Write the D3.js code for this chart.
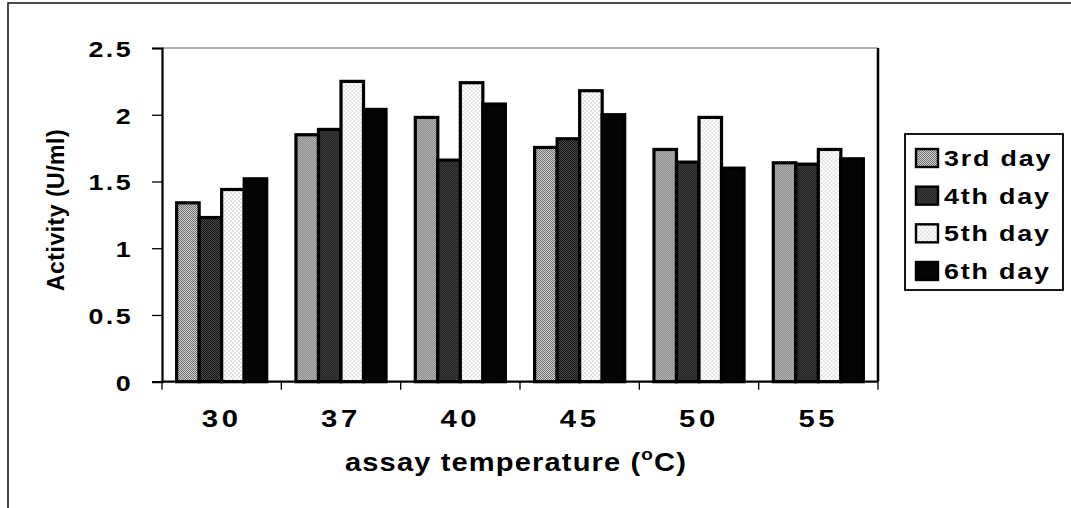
<!DOCTYPE html>
<html>
<head>
<meta charset="utf-8">
<script src="https://cdn.jsdelivr.net/npm/d3@7"></script>
<style>
  html, body { margin: 0; padding: 0; background: #fff; }
  svg { display: block; }
  text { font-family: "Liberation Sans", Arial, sans-serif; fill: #000; }
</style>
</head>
<body>
<svg id="chart" width="1071" height="508"></svg>
<script>
// Enzyme activity by assay temperature, one bar per harvest day
const temperatures = ["30", "37", "40", "45", "50", "55"];
const seriesNames = ["3rd day", "4th day", "5th day", "6th day"];
const day3 = [1.34, 1.85, 1.98, 1.755, 1.74, 1.64];
const day4 = [1.23, 1.89, 1.66, 1.82, 1.645, 1.63];
const day5 = [1.44, 2.25, 2.24, 2.18, 1.98, 1.74];
const day6 = [1.52, 2.04, 2.08, 2.00, 1.60, 1.67];
const yTicks = [0, 0.5, 1, 1.5, 2, 2.5];

const seriesValues = [day3, day4, day5, day6];

const svg = d3.select("#chart");
const W = 1071, H = 508;
const plot = { left: 162, right: 878, top: 48, bottom: 381.7 };
const stretch = 1.22; // wide lettering of the horizontal labels

// outer chart frame
svg.append("rect")
  .attr("x", 8).attr("y", 3)
  .attr("width", W + 20).attr("height", H + 20)
  .attr("fill", "none").attr("stroke", "#111").attr("stroke-width", 1.5);

// halftone-like fills
const defs = svg.append("defs");
function checker(id, a, b, size) {
  const p = defs.append("pattern").attr("id", id)
    .attr("patternUnits", "userSpaceOnUse")
    .attr("width", size * 2).attr("height", size * 2);
  p.append("rect").attr("width", size * 2).attr("height", size * 2).attr("fill", a);
  p.append("rect").attr("width", size).attr("height", size).attr("fill", b);
  p.append("rect").attr("x", size).attr("y", size).attr("width", size).attr("height", size).attr("fill", b);
}
checker("fill3", "#d2d2d2", "#6c6c6c", 1);
checker("fill4", "#4c4c4c", "#121212", 1);
checker("fill5", "#ffffff", "#e2e2e2", 2);
checker("fill6", "#000000", "#080808", 1);
const fills = ["url(#fill3)", "url(#fill4)", "url(#fill5)", "url(#fill6)"];

const x0 = d3.scaleBand().domain(temperatures).range([plot.left, plot.right]).padding(0);
const x1 = d3.scaleBand().domain(seriesNames).range([0, x0.bandwidth()])
  .paddingInner(0).paddingOuter(0.65);
const y = d3.scaleLinear().domain([0, 2.5]).range([plot.bottom, plot.top]);

// plot area border (top thin, right heavy)
svg.append("line")
  .attr("x1", plot.left).attr("x2", plot.right)
  .attr("y1", plot.top).attr("y2", plot.top)
  .attr("stroke", "#666").attr("stroke-width", 1.2);
svg.append("line")
  .attr("x1", plot.right).attr("x2", plot.right)
  .attr("y1", plot.top).attr("y2", plot.bottom)
  .attr("stroke", "#000").attr("stroke-width", 2.5);

// bars
const groups = svg.append("g").selectAll("g")
  .data(temperatures)
  .join("g")
  .attr("transform", d => `translate(${x0(d)},0)`);

groups.selectAll("rect")
  .data((t, i) => seriesNames.map((s, k) => ({ s, k, v: seriesValues[k][i] })))
  .join("rect")
  .attr("x", d => x1(d.s))
  .attr("y", d => y(d.v))
  .attr("width", x1.bandwidth())
  .attr("height", d => y(0) - y(d.v))
  .attr("fill", d => fills[d.k])
  .attr("stroke", "#000")
  .attr("stroke-width", 3.2);

// y axis
const yAxis = svg.append("g")
  .attr("transform", `translate(${plot.left},0)`)
  .call(d3.axisLeft(y).tickValues(yTicks).tickFormat(d3.format("")).tickSize(10).tickPadding(0));
yAxis.select(".domain").attr("stroke", "#000").attr("stroke-width", 2.2);
yAxis.selectAll(".tick line").attr("stroke", "#000").attr("stroke-width", 1.3);
yAxis.selectAll(".tick text")
  .attr("x", -29 / stretch)
  .attr("dy", "0.38em")
  .attr("transform", `scale(${stretch},1)`)
  .style("font-size", "22px")
  .style("font-weight", "bold")
  .style("letter-spacing", "2px");

// x axis baseline and category boundary ticks
svg.append("line")
  .attr("x1", plot.left).attr("x2", plot.right)
  .attr("y1", plot.bottom).attr("y2", plot.bottom)
  .attr("stroke", "#000").attr("stroke-width", 2.2);
const boundaries = temperatures.map(t => x0(t)).concat([x0.range()[1]]);
svg.append("g").selectAll("line")
  .data(boundaries)
  .join("line")
  .attr("x1", d => d).attr("x2", d => d)
  .attr("y1", plot.bottom).attr("y2", plot.bottom + 8)
  .attr("stroke", "#000").attr("stroke-width", 1.3);

const xAxis = svg.append("g")
  .attr("transform", `translate(0,${plot.bottom})`)
  .call(d3.axisBottom(x0).tickSize(0).tickPadding(0));
xAxis.select(".domain").remove();
xAxis.selectAll(".tick text")
  .attr("y", 45).attr("dy", 0)
  .attr("transform", `scale(${stretch},1)`)
  .style("font-size", "24px")
  .style("font-weight", "bold")
  .style("letter-spacing", "3px");

// axis titles
const xTitle = svg.append("g").attr("transform", `translate(516,471) scale(1.12,1)`)
  .append("text").attr("text-anchor", "middle")
  .style("font-size", "26px").style("font-weight", "bold").style("letter-spacing", "1px");
xTitle.append("tspan").text("assay temperature (");
xTitle.append("tspan").attr("dy", -11).style("font-size", "17px").text("o");
xTitle.append("tspan").attr("dy", 11).text("C)");

svg.append("text")
  .attr("transform", "translate(64,210) rotate(-90)")
  .attr("text-anchor", "middle")
  .style("font-size", "23px").style("font-weight", "bold").style("letter-spacing", "0.5px")
  .text("Activity (U/ml)");

// legend
const legend = svg.append("g");
legend.append("rect")
  .attr("x", 905).attr("y", 134).attr("width", 158).attr("height", 156)
  .attr("fill", "#fff").attr("stroke", "#000").attr("stroke-width", 1.8);
const rowY = d3.scalePoint().domain(seriesNames).range([158, 271]);
const items = legend.selectAll("g.item")
  .data(seriesNames)
  .join("g").attr("class", "item")
  .attr("transform", d => `translate(0,${rowY(d)})`);
items.append("rect")
  .attr("x", 916).attr("y", -9).attr("width", 22).attr("height", 18)
  .attr("fill", (d, i) => fills[i])
  .attr("stroke", "#000").attr("stroke-width", 2.4);
items.append("g").attr("transform", `translate(944,8) scale(${stretch},1)`)
  .append("text")
  .style("font-size", "22px").style("font-weight", "bold").style("letter-spacing", "1.5px")
  .text(d => d);
</script>
</body>
</html>
